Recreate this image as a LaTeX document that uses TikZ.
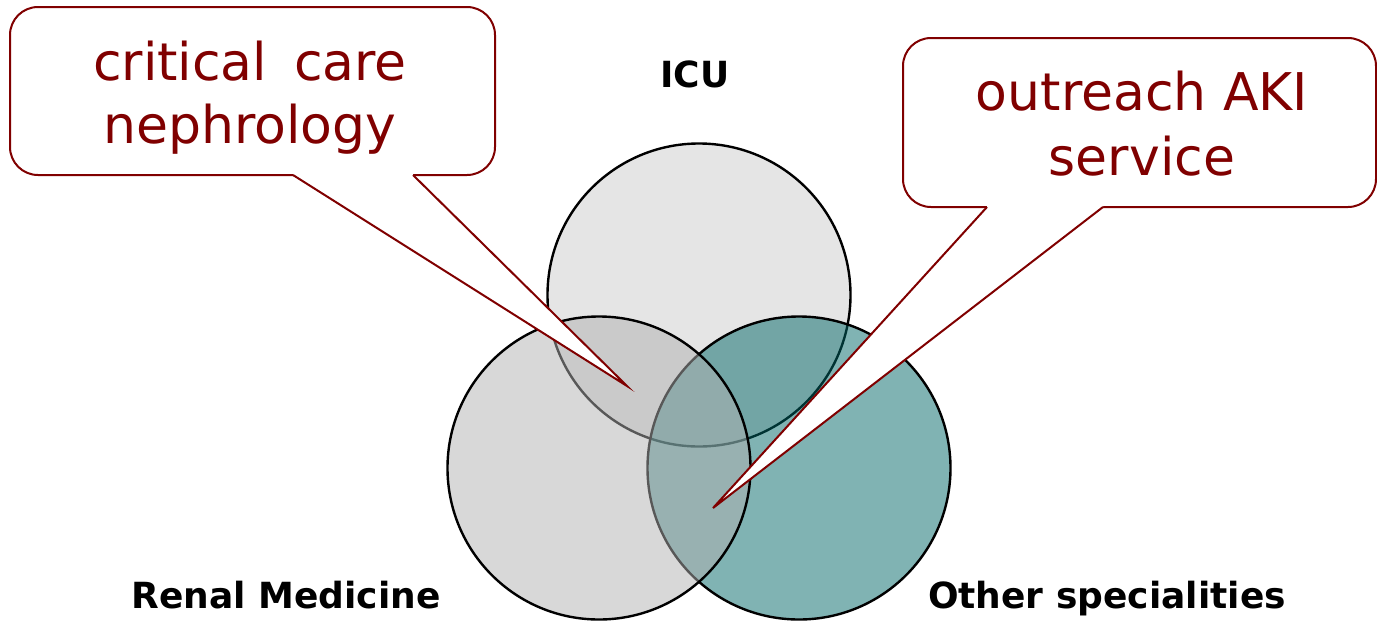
\documentclass[tikz,border=0pt]{standalone}
\usepackage{fontspec}
\setmainfont{DejaVu Sans}
\definecolor{dred}{RGB}{128,0,0}
\definecolor{icufill}{RGB}{229,229,229}
\definecolor{renalfill}{RGB}{177,177,177}
\definecolor{otherfill}{RGB}{1,103,103}
\begin{document}
\begin{tikzpicture}[x=0.5pt,y=-0.5pt,
  venn/.style={circle, draw=black, line width=1.2pt, minimum size=151.5pt, inner sep=0pt},
  setlabel/.style={anchor=base, inner sep=0pt, font=\bfseries\fontsize{18}{21.6}\selectfont},
  callbox/.style={draw=dred, fill=white, line width=1pt, rounded corners=14pt, inner sep=0pt},
  calltext/.style={anchor=base, inner sep=0pt, text=dred, font=\fontsize{26}{31}\selectfont},
  pointer/.style={draw=dred, line width=1pt, line join=miter}]
\useasboundingbox (0,0) rectangle (1377,622);
% circles
\node[venn, fill=icufill] (icu) at (699,295) {};
\node[venn, fill=otherfill, fill opacity=0.5] (other) at (799,468) {};
\node[venn, fill=renalfill, fill opacity=0.5] (renal) at (599,468) {};
% set labels
\node[setlabel] (licu) at (695,87) {ICU};
\node[setlabel] (lrenal) at (286,608) {Renal Medicine};
\node[setlabel] (lother) at (1107,608) {Other specialities};
% callout 1
\node[callbox, minimum width=242.5pt, minimum height=84pt] (cc) at (252.5,91) {};
\coordinate (ccA) at (293,175);
\coordinate (ccB) at (413,175);
\coordinate (ccTip) at (627,386);
\fill[white] (ccA) -- (ccTip) -- (ccB) -- (413,168) -- (293,168) -- cycle;
\draw[pointer] (ccA) -- (ccTip) -- (ccB);
\node[calltext] (cc1) at (250,80) {critical\hspace{0.2em} care};
\node[calltext] (cc2) at (250,143) {nephrology};
% callout 2
\node[callbox, minimum width=236.5pt, minimum height=84.5pt] (oa) at (1139.5,122.5) {};
\coordinate (oaA) at (987,207);
\coordinate (oaB) at (1103,207);
\coordinate (oaTip) at (713,508);
\fill[white] (oaA) -- (oaTip) -- (oaB) -- (1103,200) -- (987,200) -- cycle;
\draw[pointer] (oaA) -- (oaTip) -- (oaB);
\node[calltext] (oa1) at (1142,110) {outreach AKI};
\node[calltext] (oa2) at (1142,175) {service};
\end{tikzpicture}
\end{document}
